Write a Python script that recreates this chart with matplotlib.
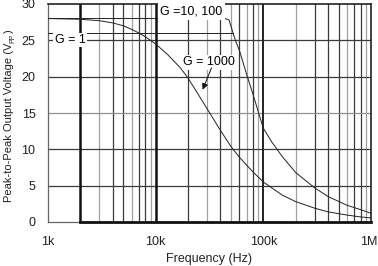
import matplotlib
matplotlib.use("Agg")
import matplotlib.pyplot as plt
import matplotlib.transforms as mtransforms

plt.rcParams['font.family'] = ['Liberation Sans', 'DejaVu Sans']

# ---- data ----
freq_g1000 = [1e3, 2e3, 3e3, 4e3, 5e3, 6e3, 7e3, 8e3, 10e3, 13e3, 17e3, 20e3, 25e3,
              30e3, 40e3, 50e3, 60e3, 80e3, 100e3, 150e3, 200e3, 300e3, 400e3,
              600e3, 800e3, 1e6]
v_g1000 = [28.0, 27.9, 27.7, 27.4, 27.0, 26.5, 26.0, 25.5, 24.5, 23.0, 21.2, 19.8, 17.5,
           15.6, 12.6, 10.4, 8.9, 6.9, 5.5, 3.7, 2.8, 1.9, 1.4, 0.95, 0.7, 0.56]

freq_g10 = [1e3, 10e3, 30e3, 44e3, 48e3, 55e3, 60e3, 70e3, 80e3, 100e3, 120e3, 150e3,
            200e3, 300e3, 400e3, 600e3, 800e3, 1e6]
v_g10 = [28.0, 28.0, 28.0, 28.0, 27.8, 25.0, 23.6, 20.3, 17.6, 12.9, 11.0, 9.0,
         6.8, 4.7, 3.5, 2.3, 1.7, 1.2]

freq_g1 = [1e3, 10e3, 30e3, 52e3]
v_g1 = [26.0, 26.0, 26.0, 26.0]

y_ticks = [0, 5, 10, 15, 20, 25, 30]
x_ticks = [1e3, 1e4, 1e5, 1e6]
x_ticklabels = ['1k', '10k', '100k', '1M']

grid_dark = [4e3, 5e3, 7e3, 8e3, 20e3, 40e3, 60e3, 80e3,
             300e3, 400e3, 500e3, 700e3, 800e3]
grid_gray = [3e3, 6e3, 9e3, 30e3, 50e3, 70e3, 90e3, 200e3, 600e3, 900e3]

# ---- figure ----
W, H = 378, 266
fig = plt.figure(figsize=(W/100, H/100), dpi=100)
ax = fig.add_axes([48/W, 1-222/H, 323/W, 218/H])
ax.set_xscale('log')
ax.set_xlim(1e3, 1e6)
ax.set_ylim(0, 30)
for s in ax.spines.values():
    s.set_visible(False)

dark = '#3a3a3a'
gray = '#a0a0a0'
for f in grid_dark:
    ax.axvline(f, color=dark, lw=0.9, zorder=1)
for f in grid_gray:
    ax.axvline(f, color=gray, lw=0.9, zorder=1)
ax.axvline(2e3, color='#111111', lw=1.8, zorder=1.5)
ax.axvline(1e4, color='#111111', lw=1.8, zorder=1.5)
ax.axvline(1e5, color='#222222', lw=1.4, zorder=1.5)
ax.axvline(1e6, color='#222222', lw=1.2, zorder=1.5, clip_on=False)
ax.axvline(1e3, color='#666666', lw=0.9, zorder=1.5, clip_on=False)

for v in [5, 10, 20, 25]:
    ax.axhline(v, color=dark, lw=0.9, zorder=1)
ax.axhline(15, color='#909090', lw=0.9, zorder=1)
ax.axhline(30, color='#222222', lw=1.2, zorder=1.5, clip_on=False)
ax.plot([1e3, 2e3], [0, 0], color='#666666', lw=0.9, zorder=1.5, clip_on=False)
ax.plot([2e3, 1e6], [0, 0], color='#111111', lw=2.0, zorder=1.6, clip_on=False)

# curves
lc = '#222222'
ax.plot(freq_g1000, v_g1000, color=lc, lw=0.7, zorder=3)
ax.plot(freq_g10, v_g10, color=lc, lw=0.7, zorder=3)
ax.plot(freq_g1, v_g1, color=lc, lw=0.7, zorder=3)

# annotations
ax.text(1.6e3, 25, 'G = 1', fontsize=9, ha='center', va='center',
        bbox=dict(facecolor='white', edgecolor='none', pad=0.8), zorder=4)
ax.text(2.15e4, 28.95, 'G =10, 100', fontsize=9, ha='center', va='center',
        bbox=dict(facecolor='white', edgecolor='none', pad=1.6), zorder=4)
ax.text(3.15e4, 22.0, 'G = 1000', fontsize=9, ha='center', va='center',
        bbox=dict(facecolor='white', edgecolor='none', pad=1.0), zorder=4)
ax.annotate('', xy=(2.73e4, 18.2), xytext=(3.3e4, 21.2),
            arrowprops=dict(arrowstyle='-|>', color='#111111', lw=0.7,
                            mutation_scale=9, shrinkA=0, shrinkB=0),
            zorder=5)

ax.set_yticks(y_ticks)
ax.set_yticklabels([str(v) for v in y_ticks])
ax.set_xticks(x_ticks)
ax.set_xticklabels(x_ticklabels)
ax.xaxis.set_minor_locator(matplotlib.ticker.NullLocator())
ax.tick_params(axis='both', length=0, labelsize=9, colors='#222222')
ax.tick_params(axis='y', pad=9)
ax.tick_params(axis='x', pad=10)
lab = ax.get_xticklabels()[-1]
lab.set_transform(lab.get_transform() +
                  mtransforms.ScaledTranslation(-2/100, 0, fig.dpi_scale_trans))

ax.set_xlabel('Frequency (Hz)', fontsize=9, color='#222222')
ax.xaxis.set_label_coords((209-48)/323, -(253-222)/218)

# y label composed of pieces: main text, subscript "PP", closing paren
tc = '#222222'
fs = 8.0
base_x = 12 / W        # baseline x (figure fraction)
start_y = 1 - 202 / H  # start of text (bottom end)
t1 = fig.text(base_x, start_y, 'Peak-to-Peak Output Voltage (V', fontsize=fs,
              rotation=90, rotation_mode='anchor', ha='left', va='baseline',
              color=tc)
fig.canvas.draw()
r = fig.canvas.get_renderer()
bb1 = t1.get_window_extent(r)
y2 = bb1.y1 / H
t2 = fig.text(base_x + 2.0 / W, y2, 'PP', fontsize=fs * 0.62, rotation=90,
              rotation_mode='anchor', ha='left', va='baseline', color=tc)
fig.canvas.draw()
bb2 = t2.get_window_extent(r)
y3 = bb2.y1 / H
fig.text(base_x, y3, ')', fontsize=fs, rotation=90, rotation_mode='anchor',
         ha='left', va='baseline', color=tc)

fig.savefig('out.png', dpi=100)
